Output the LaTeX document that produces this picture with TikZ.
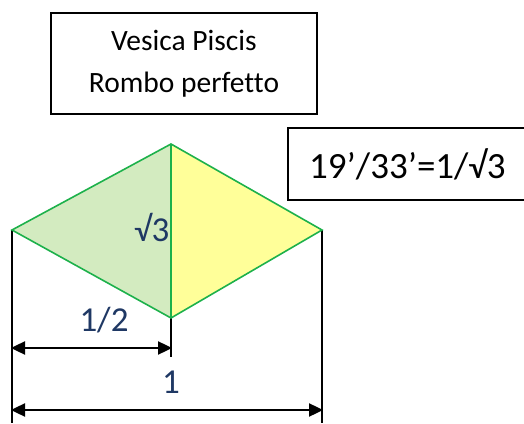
\documentclass[tikz,border=0pt]{standalone}
\usepackage{fontspec}
\setmainfont{Carlito}[Ligatures=CommonOff]
\usetikzlibrary{arrows.meta}
\definecolor{lgreen}{HTML}{D3EBC0}
\definecolor{lyellow}{HTML}{FFFF99}
\definecolor{rgreen}{HTML}{1DB14B}
\definecolor{navy}{HTML}{1F3864}
\tikzset{
  boxstyle/.style={draw=black, line width=1.5pt, inner sep=0pt, align=center},
  edge/.style={draw=rgreen, line width=1.6pt, line join=miter},
  extline/.style={draw=black, line width=1.8pt},
  dimarrow/.style={draw=black, line width=2.4pt, {Triangle[length=14pt,width=13pt]}-{Triangle[length=14pt,width=13pt]}, shorten <=-1pt, shorten >=-1pt},
  dimlabel/.style={text=navy, font=\fontsize{35}{40}\selectfont, inner sep=0pt}
}
\begin{document}
\begin{tikzpicture}[x=1pt,y=1pt]
\useasboundingbox (0,0) rectangle (524,423);
% vertices
\coordinate (T) at (171,279);
\coordinate (L) at (12,193);
\coordinate (R) at (322,193);
\coordinate (B) at (171,105);
\coordinate (Bx) at (171,66);
\coordinate (Lx) at (12,0);
\coordinate (Rx) at (322,0);
\coordinate (A1l) at (12,75);
\coordinate (A1r) at (171,75);
\coordinate (A2l) at (12,13);
\coordinate (A2r) at (322,13);
% fills
\fill[lgreen] (L) -- (T) -- (B) -- cycle;
\fill[lyellow] (T) -- (R) -- (B) -- cycle;
% extension lines
\draw[extline] (L) -- (Lx);
\draw[extline] (R) -- (Rx);
\draw[extline] (B) -- (Bx);
% rhombus outline
\draw[edge] (L) -- (T) -- (R) -- (B) -- cycle;
\draw[edge] (T) -- (B);
% dimension arrows
\draw[dimarrow] (A1l) -- (A1r);
\draw[dimarrow] (A2l) -- (A2r);
% labels
\node[dimlabel] (half) at (104,103) {1/2};
\node[dimlabel] (one) at (171,41) {1};
\node[dimlabel, anchor=east] (sq) at (169.5,195) {√3};
% boxes
\node[boxstyle, minimum width=266pt, minimum height=101pt, font=\fontsize{29.5}{42}\selectfont] (box1) at (184,359.5) {Vesica Piscis\\Rombo perfetto};
\node[boxstyle, anchor=west, minimum width=250pt, minimum height=72pt] (box2) at (287,259) {};
\node[anchor=west, inner sep=0pt, font=\fontsize{37}{42}\selectfont] (ratio) at (309,259) {19’/33’=1/√3};
\end{tikzpicture}
\end{document}
